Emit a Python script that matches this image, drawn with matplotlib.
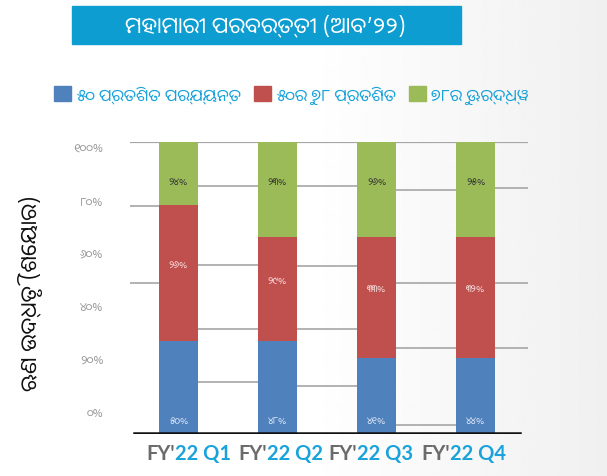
import numpy as np
import matplotlib
matplotlib.use("Agg")
import matplotlib.pyplot as plt
from matplotlib.patches import Patch

# quarters on the x axis
quarters = ["Q1", "Q2", "Q3", "Q4"]

# segment heights as drawn in the picture (share of the bar, %)
blue_seg = [31.8, 31.8, 26.0, 26.0]
red_seg = [46.6, 35.6, 41.4, 41.4]
green_seg = [21.6, 32.5, 32.5, 32.5]

# values printed on the segments (Odia digits)
blue_lbl = ["୫୦%", "୪୮%", "୪୧%", "୪୪%"]
red_lbl = ["୨୬%", "୨୯%", "୩୩%", "୩୨%"]
green_lbl = ["୨୪%", "୨୩%", "୨୬%", "୨୫%"]

series_names = ["୫୦ ପ୍ରତିଶତ ପର୍ଯ୍ୟନ୍ତ", "୫୦ରୁ ୭୮ ପ୍ରତିଶତ", "୭୮ରୁ ଊର୍ଦ୍ଧ୍ୱ"]
ytick_labels = ["୦%", "୨୦%", "୪୦%", "୬୦%", "୮୦%", "୧୦୦%"]
title = "ମହାମାରୀ ପରବର୍ତ୍ତୀ (ଆବ’୨୨)"
ylabel = "ଋଣ ଉଦ୍ଧୃତି (ଶେୟାର)"

BLUE, RED, GREEN = "#4F81BD", "#C0504D", "#9BBB59"
CYAN = "#1AA3DA"
ODIA = ["Noto Sans Oriya", "Noto Sans", "DejaVu Sans"]

fig = plt.figure(figsize=(6.07, 4.77), dpi=100)

# soft background, white on the left going light grey to the right
bg = fig.add_axes([0, 0, 1, 1], zorder=-10)
xx = np.linspace(0, 1, 300)
shade = 1 - 0.06 * np.clip((xx - 0.5) / 0.5, 0, 1)
bg.imshow(np.tile(shade, (10, 1)), cmap="gray", vmin=0, vmax=1,
          aspect="auto", extent=[0, 1, 0, 1])
bg.set_axis_off()

ax = fig.add_axes([0.214, 0.088, 0.656, 0.612])
ax.patch.set_alpha(0)
x = np.arange(len(quarters))
w = 0.394

ax.bar(x, blue_seg, w, color=BLUE, zorder=3)
ax.bar(x, red_seg, w, bottom=blue_seg, color=RED, zorder=3)
tops = np.array(blue_seg) + np.array(red_seg)
ax.bar(x, green_seg, w, bottom=tops, color=GREEN, zorder=3)

for i in x:
    ax.text(i, 4.5, blue_lbl[i], ha="center", va="center", fontsize=7,
            color="#dfe8f5", family=ODIA, zorder=4)
    ax.text(i, blue_seg[i] + red_seg[i] / 2 + 3, red_lbl[i], ha="center",
            va="center", fontsize=7, color="#f6dede", family=ODIA, zorder=4)
    ax.text(i, 100 - 13.5, green_lbl[i], ha="center", va="center",
            fontsize=7, color="#333333", family=ODIA, zorder=4)

ax.set_xlim(-0.49, 3.53)
ax.set_ylim(0, 100)

# grid pieces as they sit between the bars in the picture
gaps = [(-0.49, -0.197), (0.197, 0.803), (1.197, 1.803), (2.197, 2.803), (3.197, 3.53)]
gap_levels = [
    [78.1, 51.7],
    [84.9, 57.9, 36.0, 17.8],
    [84.9, 57.5, 36.0, 16.4],
    [83.6, 51.7, 29.5, 3.1],
    [84.2, 51.7, 29.5],
]
for (g0, g1), lv in zip(gaps, gap_levels):
    ax.hlines(lv, g0, g1, color="#a6a6a6", lw=1.2, zorder=1)
ax.axhline(100, color="#a6a6a6", lw=1.6, zorder=1)
ax.axhline(0.3, xmin=0.01, xmax=0.98, color="#111111", lw=1.8, zorder=5)

for s in ax.spines.values():
    s.set_visible(False)
ax.set_xticks([])
ax.set_yticks([7.9, 25.7, 44.2, 62.0, 80.1, 98.3])
ax.set_yticklabels(ytick_labels, family=ODIA, fontsize=8.5, color="#9a9a9a")
ax.tick_params(axis="y", length=0, pad=19)

# two-colour quarter labels
split = [0.113, 0.344, 0.570, 0.804]
for i, q in enumerate(quarters):
    ax.text(split[i], -0.065, "FY'", transform=ax.transAxes, ha="right",
            va="center", fontsize=14.5, fontweight="bold", color="#6b6b6b",
            family="Lato")
    ax.text(split[i], -0.065, "22 " + q, transform=ax.transAxes, ha="left",
            va="center", fontsize=14.5, fontweight="bold", color=CYAN,
            family="Lato")

fig.text(0.05, 0.385, ylabel, rotation=90, ha="center", va="center",
         fontsize=16, fontweight="bold", color="#111111", family=ODIA)

# title banner
fig.patches.append(plt.Rectangle((0.119, 0.906), 0.641, 0.080,
                                 transform=fig.transFigure,
                                 color="#0E9DD1", zorder=0))
fig.text(0.438, 0.946, title, ha="center", va="center", fontsize=16,
         color="white", family=ODIA)

handles = [Patch(color=BLUE), Patch(color=RED), Patch(color=GREEN)]
leg = fig.legend(handles, series_names, loc="center left",
                 bbox_to_anchor=(0.065, 0.80), ncol=3, frameon=False,
                 handlelength=1.0, handleheight=1.0, handletextpad=0.3,
                 columnspacing=0.8, prop={"family": ODIA, "size": 12})
for t in leg.get_texts():
    t.set_color(CYAN)

fig.savefig("out.png", dpi=100)
